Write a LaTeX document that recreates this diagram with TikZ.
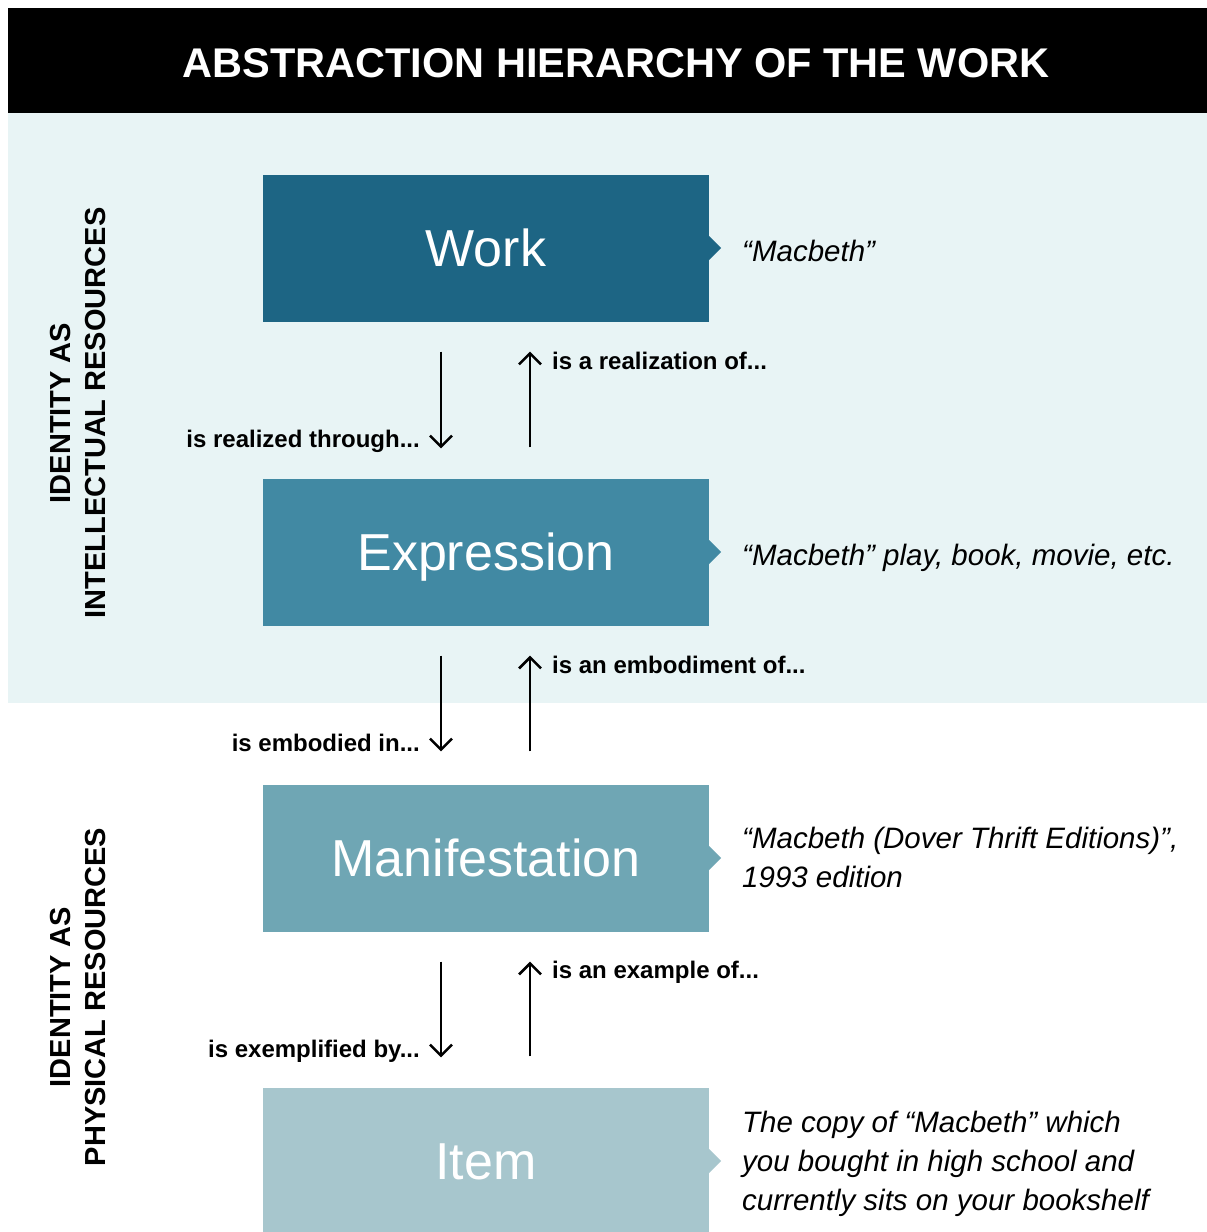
\documentclass[tikz,border=0pt]{standalone}
\usepackage{fontspec}
\setmainfont{Liberation Sans}
\usetikzlibrary{arrows.meta}
\definecolor{cwork}{HTML}{1D6584}
\definecolor{cexpr}{HTML}{4189A3}
\definecolor{cmani}{HTML}{6FA6B4}
\definecolor{citem}{HTML}{A7C6CD}
\definecolor{cbg}{HTML}{E8F4F5}
\tikzset{
  levelbox/.style={minimum width=446pt, minimum height=147pt, inner sep=0pt,
    text height=37.5pt, text depth=0pt, text=white,
    font=\fontsize{52}{60}\selectfont},
  relarrow/.style={line width=2.5pt, -{Straight Barb[length=11pt,width=22pt]}},
  rellabel/.style={inner sep=0pt, font=\fontsize{24}{28}\selectfont\bfseries},
  desc/.style={inner sep=0pt, align=left, anchor=base west,
    font=\fontsize{29.5}{39}\selectfont\itshape},
  sidelabel/.style={inner sep=0pt, align=center, rotate=90,
    font=\fontsize{29}{35}\selectfont\bfseries},
}
\begin{document}
\begin{tikzpicture}[x=1pt,y=-1pt]
\useasboundingbox (0,0) rectangle (1207,1232);
\fill[white] (0,0) rectangle (1207,1232);
\fill[black] (8,8) rectangle (1207,113);
\fill[cbg] (8,113) rectangle (1207,703);
\node[text=white, inner sep=0pt, anchor=base, font=\fontsize{41.5}{48}\selectfont\bfseries] (title) at (616,77) {ABSTRACTION HIERARCHY OF THE WORK};

% side labels
\node[sidelabel] (intel) at (78,413) {IDENTITY AS\\INTELLECTUAL RESOURCES};
\node[sidelabel] (phys) at (78,997) {IDENTITY AS\\PHYSICAL RESOURCES};

% boxes
\node[levelbox, fill=cwork] (work) at (486,248) {Work};
\node[levelbox, fill=cexpr] (expr) at (486,552) {Expression};
\node[levelbox, fill=cmani] (mani) at (486,858) {Manifestation};
\node[levelbox, fill=citem] (item) at (486,1161) {Item};

% pointers
\foreach \b/\c in {work/cwork, expr/cexpr, mani/cmani, item/citem}{
  \fill[\c] ([yshift=12pt]\b.east) -- ([xshift=12pt]\b.east) -- ([yshift=-12pt]\b.east) -- cycle;
}

% descriptions (base = baseline of the last line)
\node[desc] (dwork) at (742,261) {“Macbeth”};
\node[desc] (dexpr) at (742,565) {“Macbeth” play, book, movie, etc.};
\node[desc] (dmani) at (742,887) {“Macbeth (Dover Thrift Editions)”,\\1993 edition};
\node[desc] (ditem) at (742,1210) {The copy of “Macbeth” which\\you bought in high school and\\currently sits on your bookshelf};

% arrows
\draw[relarrow] ([xshift=-45pt,yshift=-30pt]work.south) -- ([xshift=-45pt,yshift=30pt]expr.north);
\draw[relarrow] ([xshift=44pt,yshift=31pt]expr.north) -- ([xshift=44pt,yshift=-30pt]work.south);
\draw[relarrow] ([xshift=-45pt,yshift=-30pt]expr.south) -- ([xshift=-45pt,yshift=33pt]mani.north);
\draw[relarrow] ([xshift=44pt,yshift=33pt]mani.north) -- ([xshift=44pt,yshift=-30pt]expr.south);
\draw[relarrow] ([xshift=-45pt,yshift=-30pt]mani.south) -- ([xshift=-45pt,yshift=30pt]item.north);
\draw[relarrow] ([xshift=44pt,yshift=31pt]item.north) -- ([xshift=44pt,yshift=-30pt]mani.south);

% relation labels
\node[rellabel, anchor=base west] (l1) at (552,369) {is a realization of...};
\node[rellabel, anchor=base east] (l2) at (420,447) {is realized through...};
\node[rellabel, anchor=base west] (l3) at (552,673) {is an embodiment of...};
\node[rellabel, anchor=base east] (l4) at (420,751) {is embodied in...};
\node[rellabel, anchor=base west] (l5) at (552,978) {is an example of...};
\node[rellabel, anchor=base east] (l6) at (420,1057) {is exemplified by...};
\end{tikzpicture}
\end{document}
